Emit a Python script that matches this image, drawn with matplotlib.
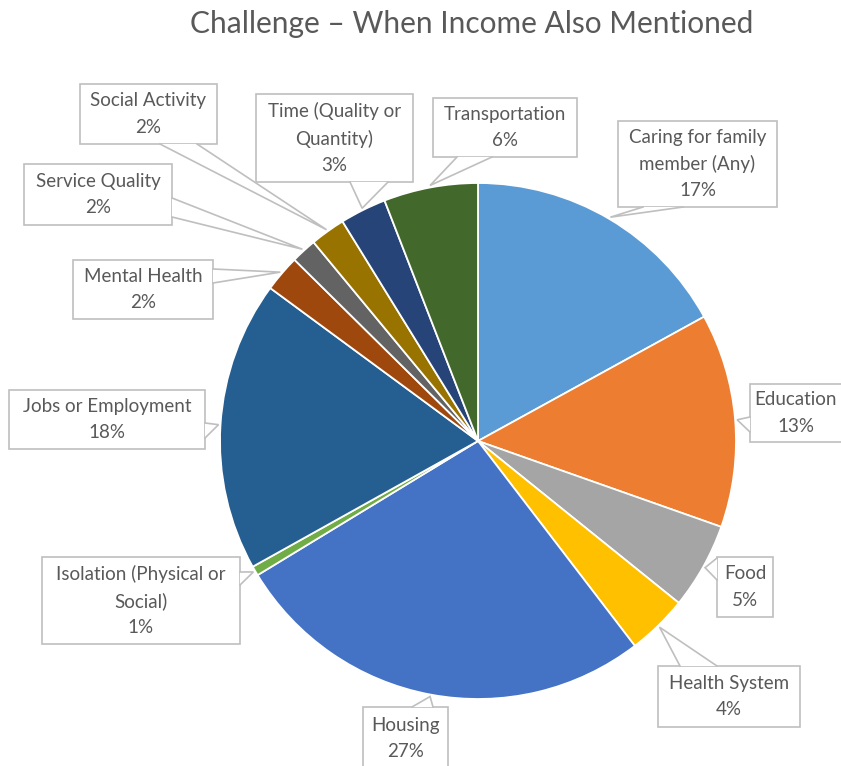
import matplotlib.pyplot as plt
from matplotlib.patches import Rectangle, Polygon
import numpy as np

# chart data, clockwise from 12 o'clock
categories = ['Caring for family\nmember (Any)', 'Education', 'Food', 'Health System',
              'Housing', 'Isolation (Physical or\nSocial)', 'Jobs or Employment',
              'Mental Health', 'Service Quality', 'Social Activity',
              'Time (Quality or\nQuantity)', 'Transportation']
values = [17.0, 13.4, 5.4, 3.8, 26.7, 0.6, 18.2, 2.3, 1.6, 2.2, 2.9, 5.9]
colors = ['#5B9BD5', '#ED7D31', '#A5A5A5', '#FFC000', '#4472C4', '#70AD47',
          '#255E91', '#9E480E', '#636363', '#997300', '#264478', '#43682B']

W, H = 841, 766
CX, CY, R = 478, 441, 258

# label boxes in pixel coords (x0, y0, x1, y1), y measured from top
boxes = [(618, 121, 777, 207), (750, 384, 860, 442), (717, 557, 773, 617),
         (658, 666, 800, 727), (363, 707, 448, 770), (42, 557, 240, 644),
         (9, 390, 205, 449), (73, 260, 213, 319), (24, 164, 172, 225),
         (80, 84, 217, 144), (256, 94, 413, 182), (433, 98, 577, 157)]
# where the callout pointer leaves the box
bases = [((643, 207), (683, 207)), ((750, 417), (750, 432)), ((717, 558), (717, 580)),
         ((680, 666), (717, 666)), ((412, 707), (433, 707)), ((240, 572), (240, 585)),
         ((205, 423), (205, 438)), ((213, 269), (213, 283)), ((172, 198), (172, 217)),
         ((160, 144), (197, 144)), ((350, 182), (388, 182)), ((457, 157), (492, 157))]

plt.rcParams['font.family'] = ['Lato', 'DejaVu Sans']
txt_color = '#595959'
edge_color = '#BFBFBF'

fig = plt.figure(figsize=(W / 100, H / 100), dpi=100)
ax = fig.add_axes([0, 0, 1, 1])

wedges, _ = ax.pie(values, colors=colors, startangle=90, counterclock=False,
                   center=(CX, H - CY), radius=R,
                   wedgeprops=dict(edgecolor='white', linewidth=1.3))
ax.set_xlim(0, W)
ax.set_ylim(0, H)
ax.set_aspect('equal')
ax.axis('off')

for i, w in enumerate(wedges):
    # tip of the callout sits on the rim at the middle of the slice
    mid = np.deg2rad((w.theta1 + w.theta2) / 2)
    tip = (CX + (R + 2) * np.cos(mid), H - CY + (R + 2) * np.sin(mid))
    x0, y0, x1, y1 = boxes[i]
    ax.add_patch(Rectangle((x0, H - y1), x1 - x0, y1 - y0, facecolor='white',
                           edgecolor=edge_color, linewidth=1.2, zorder=3))
    b1, b2 = bases[i]
    pts = [(b1[0], H - b1[1]), tip, (b2[0], H - b2[1])]
    ax.add_patch(Polygon(pts, closed=True, facecolor='white', edgecolor='none', zorder=4))
    ax.plot([p[0] for p in pts], [p[1] for p in pts], color=edge_color, lw=1.2,
            zorder=5, solid_joinstyle='miter')
    label = f"{categories[i]}\n{values[i]:.0f}%"
    # keep the right-edge label inside the picture
    tx = min((x0 + x1) / 2, 796)
    ax.text(tx, H - (y0 + y1) / 2, label, ha='center', va='center',
            fontsize=13.5, color=txt_color, linespacing=1.65, zorder=6, clip_on=False)

fig.text(472 / W, 1 - 24 / H, 'Challenge \u2013 When Income Also Mentioned',
         ha='center', va='center', fontsize=21.5, color=txt_color)

fig.savefig('out.png', dpi=100)
